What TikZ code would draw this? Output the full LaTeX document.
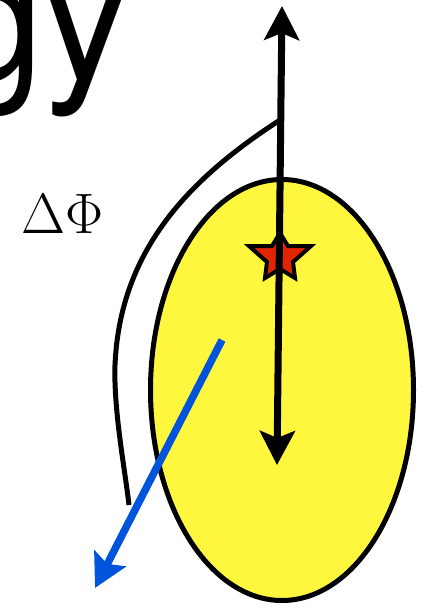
\RequirePackage{fix-cm}
\documentclass[tikz,border=0pt]{standalone}
\usepackage{fontspec}
\newfontfamily\heros{TeX Gyre Heros}
\usetikzlibrary{arrows.meta,shapes.geometric}
\definecolor{sunyellow}{RGB}{255,247,62}
\definecolor{starred}{RGB}{226,36,0}
\definecolor{arrowblue}{RGB}{0,84,220}
\begin{document}
\begin{tikzpicture}[x=1pt,y=-1pt,
  bodystyle/.style={ellipse, draw=black, fill=sunyellow, line width=5pt,
    minimum width=263pt, minimum height=421pt, inner sep=0pt},
  curveline/.style={line width=5pt},
  axisarrow/.style={line width=7pt, {Stealth[length=34pt,width=35pt,inset=7pt]}-{Stealth[length=34pt,width=35pt,inset=7pt]}},
  bluearrow/.style={draw=arrowblue, line width=7.5pt, -{Stealth[length=33pt,width=35pt,inset=6pt]}},
  starstyle/.style={fill=starred, draw=black, line width=4pt, line join=miter}]
\useasboundingbox (0,0) rectangle (433,607);
\clip (0,0) rectangle (433,607);
\node[anchor=base east, inner sep=0pt, font=\heros\fontsize{172}{172}\selectfont] (title) at (130,80) {Energy};
\node[bodystyle] (body) at (282,390) {};
\coordinate (join) at (280,120);
\coordinate (curveend) at (129,505);
\draw[curveline] (join) .. controls (192,177) and (120,248) .. (115,365) .. controls (113.5,410) and (125,470) .. (curveend);
\draw[starstyle] (280,233) -- (288,246) -- (311,246) -- (293,262) -- (295,278) -- (280,269) -- (265,278) -- (267,262) -- (249,246) -- (272,246) -- cycle;
\coordinate (topend) at (282,6);
\coordinate (botend) at (277,465);
\draw[axisarrow] (topend) -- (botend);
\coordinate (bstart) at (222,340);
\coordinate (btip) at (95,588);
\draw[bluearrow] (bstart) -- (btip);
\node[anchor=base west, inner sep=0pt, font=\fontsize{57}{57}\selectfont] (dphi) at (21,233) {$\Delta\Phi$};
\end{tikzpicture}
\end{document}
